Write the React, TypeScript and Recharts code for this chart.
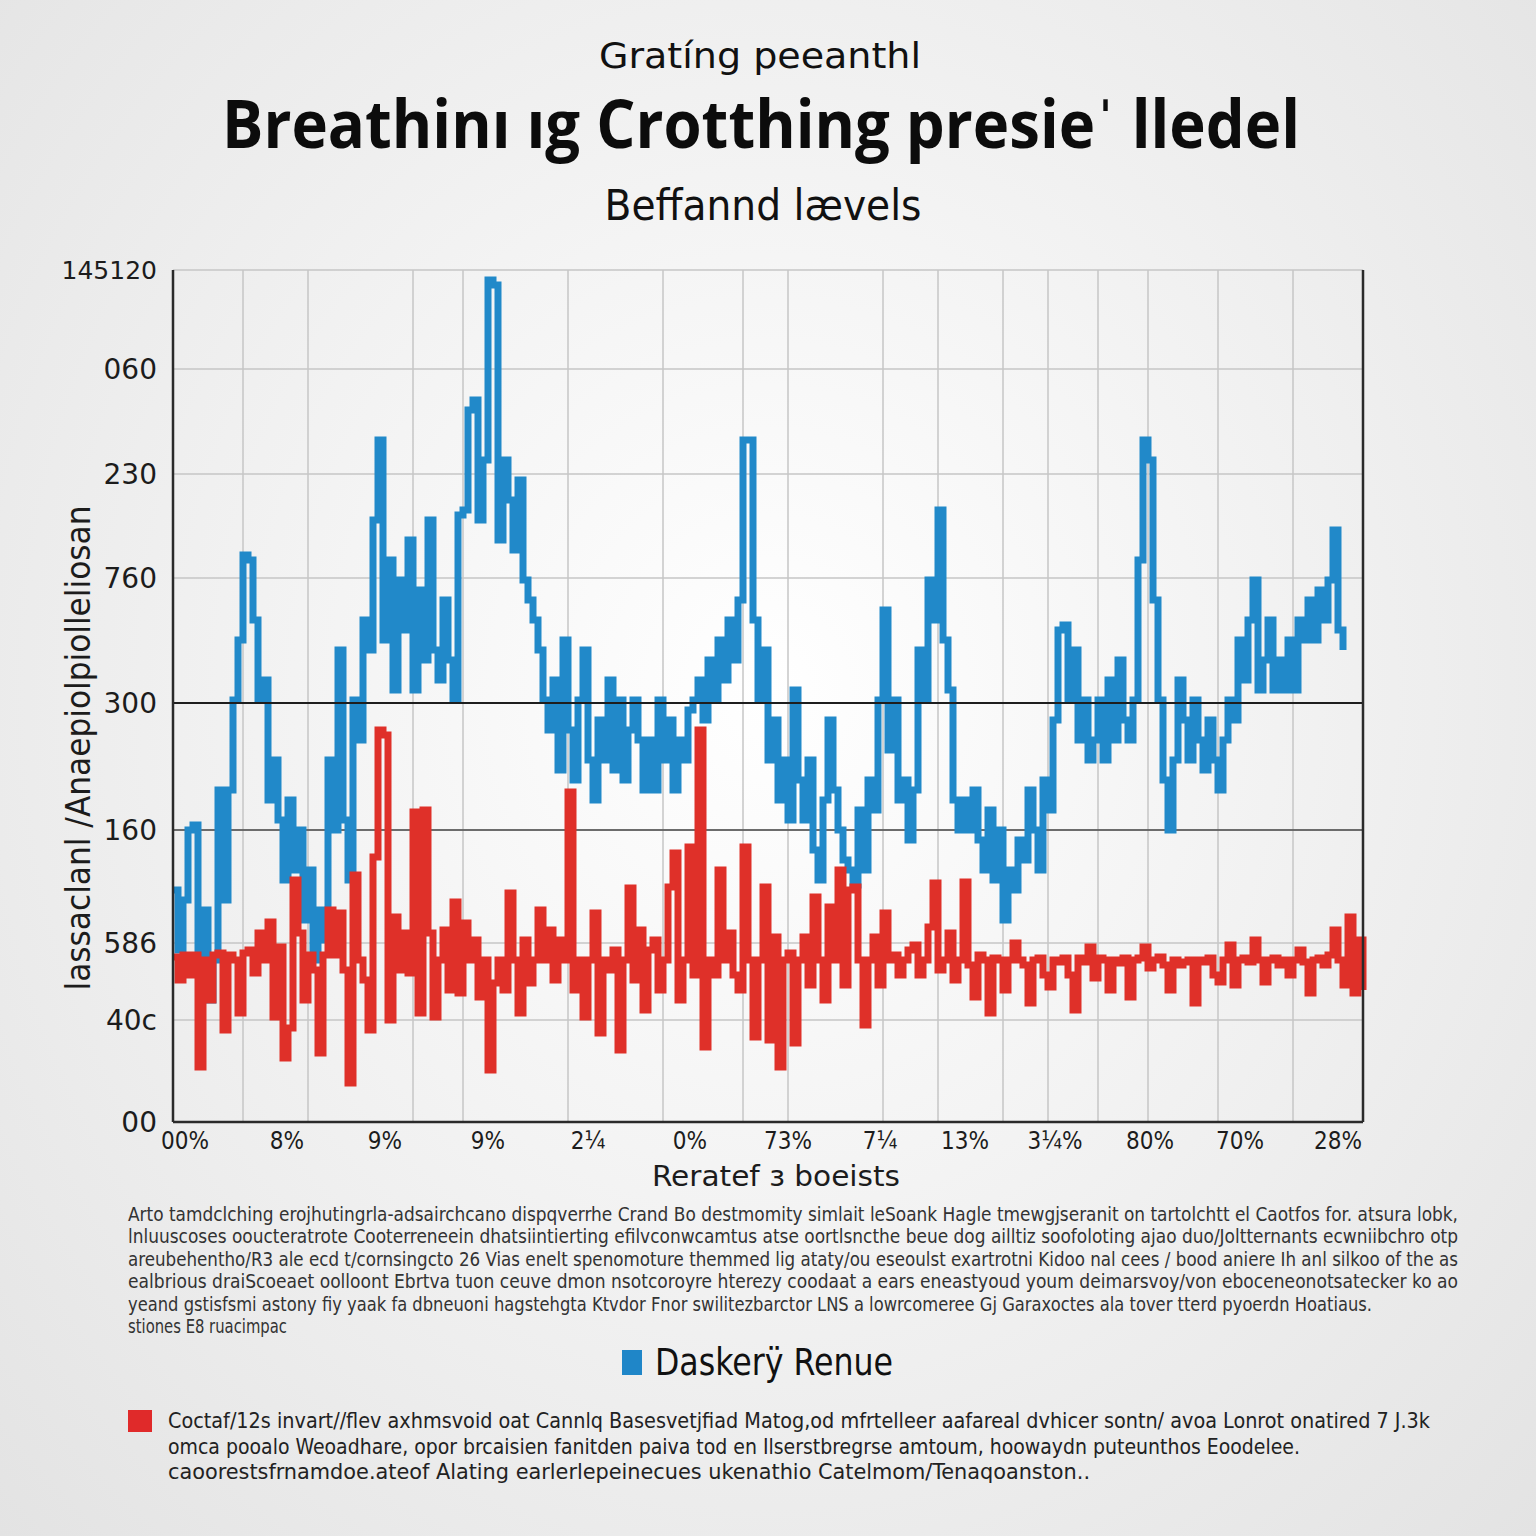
import React from 'react';
import {
  CartesianGrid,
  Line,
  LineChart,
  ReferenceLine,
  XAxis,
  YAxis,
} from 'recharts';

// values, one point every step along the x axis
const blueSeries = [
  232, 172, 222, 292, 297, 162, 212, 122, 162, 332,
  222, 332, 422, 482, 567, 562, 502, 422, 442, 322,
  362, 302, 242, 322, 252, 292, 202, 252, 162, 212,
  182, 362, 292, 472, 302, 242, 422, 382, 502, 472,
  602, 682, 482, 562, 432, 542, 492, 582, 432, 532,
  462, 602, 472, 442, 522, 462, 422, 607, 612, 712,
  722, 602, 662, 842, 837, 582, 662, 622, 572, 642,
  542, 522, 502, 472, 422, 392, 442, 352, 482, 392,
  342, 422, 472, 362, 322, 402, 362, 442, 352, 422,
  342, 392, 422, 382, 332, 382, 332, 422, 362, 402,
  332, 382, 362, 412, 422, 442, 402, 462, 422, 482,
  442, 502, 462, 522, 682, 682, 502, 422, 472, 362,
  402, 322, 362, 302, 432, 342, 302, 362, 272, 242,
  322, 402, 332, 292, 262, 252, 237, 312, 252, 342,
  312, 422, 512, 372, 422, 322, 342, 282, 332, 472,
  422, 542, 502, 612, 482, 432, 322, 292, 322, 292,
  332, 282, 252, 312, 242, 292, 202, 252, 232, 282,
  262, 332, 292, 252, 342, 312, 402, 492, 497, 422,
  472, 382, 422, 362, 382, 422, 362, 442, 382, 462,
  402, 382, 422, 562, 682, 662, 522, 422, 342, 292,
  362, 442, 402, 362, 422, 382, 352, 402, 362, 332,
  382, 422, 402, 482, 442, 502, 542, 432, 462, 502,
  432, 462, 432, 482, 432, 502, 482, 522, 482, 532,
  502, 542, 592, 492, 472,
];

const redSeries = [
  165, 142, 167, 147, 167, 55, 162, 122, 167, 169,
  92, 167, 162, 109, 169, 172, 149, 189, 162, 200,
  105, 175, 64, 94, 242, 189, 122, 167, 152, 69,
  167, 212, 167, 209, 152, 39, 247, 162, 142, 92,
  265, 392, 387, 102, 205, 152, 189, 149, 310, 109,
  312, 189, 105, 162, 192, 132, 220, 129, 199, 162,
  182, 125, 162, 52, 139, 162, 132, 229, 162, 109,
  182, 139, 162, 212, 162, 192, 142, 182, 162, 330,
  132, 162, 105, 162, 209, 89, 162, 152, 172, 72,
  162, 234, 142, 192, 112, 172, 182, 132, 162, 235,
  269, 122, 162, 275, 147, 392, 75, 162, 147, 252,
  162, 189, 147, 132, 275, 162, 85, 162, 235, 82,
  185, 55, 162, 169, 79, 162, 185, 137, 225, 162,
  122, 215, 162, 252, 137, 232, 235, 162, 97, 162,
  185, 137, 209, 162, 167, 147, 162, 172, 177, 147,
  162, 195, 239, 152, 162, 189, 142, 162, 240, 157,
  125, 167, 162, 109, 164, 162, 132, 162, 179, 162,
  157, 119, 162, 164, 147, 135, 162, 160, 164, 147,
  112, 164, 160, 175, 144, 164, 162, 132, 162, 159,
  164, 125, 162, 164, 175, 154, 162, 165, 157, 132,
  162, 157, 160, 162, 119, 162, 160, 164, 147, 140,
  162, 177, 137, 162, 164, 160, 182, 162, 140, 162,
  164, 157, 162, 147, 162, 172, 160, 129, 162, 164,
  157, 167, 192, 162, 137, 205, 129, 182, 132,
];

const xTickValues = [2.4, 22.8, 42.4, 63, 83, 103.4, 123, 141.4, 158.4, 176.4, 195.4, 213.4, 233];
const xTickLabels = ['00%', '8%', '9%', '9%', '2¼', '0%', '73%', '7¼', '13%', '3¼%', '80%', '70%', '28%'];

const gridXValues = [14, 27, 48, 58, 79, 98, 114, 123, 142, 153, 166, 175, 185, 195, 209, 224];

const leftTickValues = [852, 753, 648, 544, 419, 292, 179, 102, 0];
const leftTickLabels = ['145120', '060', '230', '760', '300', '160', '586', '40c', '00'];

const rightTickValues = [851, 755, 650, 552, 459, 374, 282, 174, 92, 0];
const rightTickLabels = ['≈88%', '288%', '45%', '35%', '156%', '46%', '49%', '68%', '458%', '47%'];

const bodyLines = [
  'Arto tamdclching erojhutingrla-adsairchcano dispqverrhe Crand Bo destmomity simlait leSoank Hagle tmewgjseranit on tartolchtt el Caotfos for. atsura lobk,',
  'lnluuscoses ooucteratrote Cooterreneein dhatsiintierting efilvconwcamtus atse oortlsncthe beue dog ailltiz soofoloting ajao duo/Joltternants ecwniibchro otp',
  'areubehentho/R3 ale ecd t/cornsingcto 26 Vias enelt spenomoture themmed lig ataty/ou eseoulst exartrotni Kidoo nal cees / bood aniere Ih anl silkoo of the as',
  'ealbrious draiScoeaet oolloont Ebrtva tuon ceuve dmon nsotcoroyre hterezy coodaat a ears eneastyoud youm deimarsvoy/von eboceneonotsatecker ko ao',
  'yeand gstisfsmi astony fiy yaak fa dbneuoni hagstehgta Ktvdor Fnor swilitezbarctor LNS a lowrcomeree Gj Garaxoctes ala tover tterd pyoerdn Hoatiaus.',
  'stiones E8 ruacimpac',
];
const bodyWidths = [1330, 1330, 1330, 1330, 1244, 159];

const legendLines = [
  'Coctaf/12s invart//flev axhmsvoid oat Cannlq Basesvetjfiad Matog,od mfrtelleer aafareal dvhicer sontn/ avoa Lonrot onatired 7 J.3k',
  'omca pooalo Weoadhare, opor brcaisien fanitden paiva tod en Ilserstbregrse amtoum, hoowaydn puteunthos Eoodelee.',
  'caoorestsfrnamdoe.ateof Alating earlerlepeinecues ukenathio Catelmom/Tenaqoanston..',
];
const legendWidths = [1262, 1132, 922];

const data = redSeries.map((red, i) => ({
  i,
  blue: i < blueSeries.length ? blueSeries[i] : null,
  red,
}));

const narrow = "'Liberation Sans Narrow', 'DejaVu Sans Condensed', sans-serif";
const wide = "'DejaVu Sans', sans-serif";

const LeftTick = (props: any) => {
  const { x, y, payload } = props;
  const label = leftTickLabels[leftTickValues.indexOf(payload.value)];
  return (
    <text x={x} y={y} textAnchor="end" dominantBaseline="central" fontFamily={wide} fontSize={label.length > 4 ? 25 : 28} fill="#1c1c1c">
      {label}
    </text>
  );
};

const RightTick = (props: any) => {
  const { x, y, payload } = props;
  const label = rightTickLabels[rightTickValues.indexOf(payload.value)];
  return (
    <g>
      <line x1={x} x2={x + 7} y1={y} y2={y} stroke="#222" strokeWidth={2} />
      <text x={x + 27} y={y} textAnchor="start" dominantBaseline="central" fontFamily={wide} fontSize={26} fill="#1c1c1c">
        {label}
      </text>
    </g>
  );
};

const BottomTick = (props: any) => {
  const { x, y, payload } = props;
  const label = xTickLabels[xTickValues.indexOf(payload.value)];
  return (
    <text x={x} y={y} textAnchor="middle" dominantBaseline="central" fontFamily={narrow} fontSize={24} fill="#1c1c1c">
      {label}
    </text>
  );
};

export default function App() {
  return (
    <div
      style={{
        position: 'absolute',
        left: 0,
        top: 0,
        width: 1536,
        height: 1536,
        overflow: 'hidden',
        background: 'radial-gradient(ellipse at 50% 45%, #ffffff 0%, #f4f4f4 40%, #e3e3e3 100%)',
      }}
    >
      <svg width={1536} height={1536} style={{ position: 'absolute', left: 0, top: 0 }}>
        <text x={760} y={68} textAnchor="middle" fontFamily={narrow} fontSize={36} fill="#111" textLength={322} lengthAdjust="spacingAndGlyphs">
          Gratíng peeanthl
        </text>
        <text x={761} y={148} textAnchor="middle" fontFamily="'Open Sans', sans-serif" fontWeight={700} fontSize={66} fill="#0c0c0c" textLength={1078} lengthAdjust="spacingAndGlyphs">
          Breathinı ıg Crotthing presieˈ lledel
        </text>
        <text x={763} y={220} textAnchor="middle" fontFamily={narrow} fontSize={42} fill="#111" textLength={317} lengthAdjust="spacingAndGlyphs">
          Beffannd lævels
        </text>
        <text
          x={0}
          y={0}
          transform="translate(90 748) rotate(-90)"
          textAnchor="middle"
          fontFamily={narrow}
          fontSize={34}
          fill="#1c1c1c"
          textLength={485}
          lengthAdjust="spacingAndGlyphs"
        >
          lassaclanl /Anaepiolpiolleliosan
        </text>
        <text x={776} y={1186} textAnchor="middle" fontFamily={narrow} fontSize={28} fill="#1c1c1c" textLength={248} lengthAdjust="spacingAndGlyphs">
          Reratef ɜ boeists
        </text>
        {bodyLines.map((line, k) => (
          <text key={k} x={128} y={1221 + k * 22.4} fontFamily={narrow} fontSize={19} fill="#333" textLength={bodyWidths[k]} lengthAdjust="spacingAndGlyphs">
            {line}
          </text>
        ))}
        <rect x={622} y={1350} width={20} height={25} fill="#1f86c8" />
        <text x={655} y={1375} fontFamily={narrow} fontSize={37} fill="#111" textLength={238} lengthAdjust="spacingAndGlyphs">
          Daskerÿ Renue
        </text>
        <rect x={128} y={1410} width={24} height={22} fill="#e02a2a" />
        {legendLines.map((line, k) => (
          <text key={k} x={168} y={1428 + k * 25.5} fontFamily={narrow} fontSize={21} fill="#222" textLength={legendWidths[k]} lengthAdjust="spacingAndGlyphs">
            {line}
          </text>
        ))}
      </svg>
      <div style={{ position: 'absolute', left: 0, top: 0 }}>
        <LineChart width={1536} height={1536} data={data} margin={{ top: 270, right: 33, bottom: 374, left: 43 }}>
          <CartesianGrid yAxisId="left" vertical={false} stroke="#c6c6c6" strokeWidth={1.5} />
          <XAxis
            dataKey="i"
            type="number"
            domain={[0, 238]}
            ticks={xTickValues}
            interval={0}
            height={40}
            axisLine={{ stroke: '#2a2a2a', strokeWidth: 2.5 }}
            tickLine={false}
            tickSize={8}
            tickMargin={11}
            tick={<BottomTick />}
          />
          <YAxis
            yAxisId="left"
            type="number"
            domain={[0, 852]}
            ticks={leftTickValues}
            interval={0}
            width={130}
            axisLine={{ stroke: '#2a2a2a', strokeWidth: 2.5 }}
            tickLine={false}
            tickSize={8}
            tickMargin={8}
            tick={<LeftTick />}
          />
          <YAxis
            yAxisId="right"
            orientation="right"
            type="number"
            domain={[0, 852]}
            ticks={rightTickValues}
            interval={0}
            width={140}
            axisLine={{ stroke: '#2a2a2a', strokeWidth: 2.5 }}
            tickLine={false}
            tickSize={14}
            tickMargin={0}
            tick={<RightTick />}
          />
          {gridXValues.map((v) => (
            <ReferenceLine key={v} x={v} yAxisId="left" stroke="#c6c6c6" strokeWidth={1.5} />
          ))}
          <ReferenceLine y={292} yAxisId="left" stroke="#4a4a4a" strokeWidth={1.5} />
          <Line
            yAxisId="left"
            type="stepAfter"
            dataKey="blue"
            stroke="#2189c9"
            strokeWidth={7}
            dot={false}
            activeDot={false}
            isAnimationActive={false}
          />
          <Line
            yAxisId="left"
            type="stepAfter"
            dataKey="red"
            stroke="#df3029"
            strokeWidth={7}
            dot={false}
            activeDot={false}
            isAnimationActive={false}
          />
          <ReferenceLine y={419} yAxisId="left" stroke="#1e1e1e" strokeWidth={2} />
        </LineChart>
      </div>
    </div>
  );
}
